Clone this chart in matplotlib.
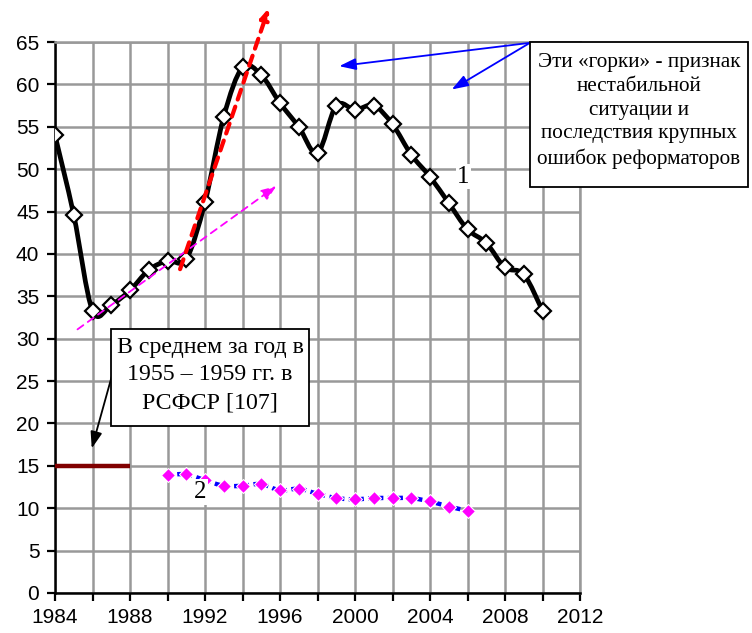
import numpy as np
import matplotlib
matplotlib.use('Agg')
import matplotlib.pyplot as plt
from matplotlib.path import Path
from matplotlib.patches import PathPatch, Rectangle

# ---- data ----
years1 = list(range(1984, 2011))
vals1 = [54.0, 44.6, 33.3, 34.0, 35.7, 38.1, 39.2, 39.4, 46.1, 56.2, 62.0, 61.1,
         57.8, 55.0, 51.9, 57.5, 57.0, 57.5, 55.3, 51.7, 49.1, 46.0, 42.9, 41.3,
         38.4, 37.6, 33.3]
years2 = list(range(1990, 2007))
vals2 = [13.9, 14.0, 13.3, 12.65, 12.65, 12.85, 12.1, 12.3, 11.7, 11.2, 11.05,
         11.2, 11.2, 11.2, 10.8, 10.2, 9.7]
years3 = [1984, 1988]
vals3 = [15.0, 15.0]

xticks = [1984, 1988, 1992, 1996, 2000, 2004, 2008, 2012]
yticks = list(range(0, 70, 5))

box1_text = "Эти «горки» - признак\nнестабильной\nситуации и\nпоследствия крупных\nошибок реформаторов"
box2_text = "В среднем за год в\n1955 – 1959 гг. в\nРСФСР [107]"

W, H = 752, 633
fig = plt.figure(figsize=(W / 100, H / 100), dpi=100)
ax = fig.add_axes([55 / W, 1 - 593 / H, 525 / W, 551 / H])


def px(x, y):
    return (x / W, 1 - y / H)


def smooth_path(x, y):
    x = np.asarray(x, float)
    y = np.asarray(y, float)
    n = len(x)
    verts = [(x[0], y[0])]
    codes = [Path.MOVETO]
    for i in range(n - 1):
        p0 = i - 1 if i > 0 else i
        p3 = i + 2 if i + 2 < n else i + 1
        c1 = (x[i] + (x[i + 1] - x[p0]) / 6, y[i] + (y[i + 1] - y[p0]) / 6)
        c2 = (x[i + 1] - (x[p3] - x[i]) / 6, y[i + 1] - (y[p3] - y[i]) / 6)
        verts += [c1, c2, (x[i + 1], y[i + 1])]
        codes += [Path.CURVE4] * 3
    return Path(verts, codes)


ax.set_xlim(1984, 2012)
ax.set_ylim(0, 65)
ax.set_xticks(xticks)
ax.set_xticks(list(range(1984, 2013, 2)), minor=True)
ax.set_yticks(yticks)
ax.grid(True, which='both', color='#999999', lw=1.8)
ax.set_axisbelow(True)
for s in ['top', 'right']:
    ax.spines[s].set_color('#999999')
    ax.spines[s].set_linewidth(1.8)
for s in ['left', 'bottom']:
    ax.spines[s].set_color('black')
    ax.spines[s].set_linewidth(1.8)
ax.tick_params(which='both', direction='out', length=5.8, width=1.6, color='black')
ax.tick_params(axis='x', labelsize=15, pad=5.0)
ax.tick_params(axis='y', labelsize=15, pad=5.5)
for lab in ax.get_xticklabels() + ax.get_yticklabels():
    lab.set_fontfamily('Liberation Sans')

# series 3
ax.plot(years3, vals3, color='#800000', lw=3.2, solid_capstyle='butt', zorder=3)

# series 1
ax.add_patch(PathPatch(smooth_path(years1, vals1), fill=False, ec='black', lw=3.4,
                       joinstyle='round', capstyle='round', zorder=4))
ax.plot(years1, vals1, ls='none', marker='D', ms=8, mfc='white', mec='black',
        mew=1.6, zorder=5)

# series 2
ax.add_patch(PathPatch(smooth_path(years2, vals2), fill=False, ec='blue', lw=3.2,
                       linestyle=(0, (1.2, 1.0)), zorder=4))
ax.plot(years2, vals2, ls='none', marker='D', ms=7, mfc='magenta', mec='white',
        mew=0.8, zorder=5)

# trend arrows
ax.annotate('', xy=(1995.8, 48.0), xytext=(1985.2, 31.1),
            arrowprops=dict(arrowstyle='-|>,head_length=0.9,head_width=0.35',
                            color='magenta', lw=1.3, linestyle=(0, (4, 3)),
                            shrinkA=0, shrinkB=0), zorder=6)
ax.annotate('', xy=(1995.4, 69.0), xytext=(1990.67, 38.2),
            arrowprops=dict(arrowstyle='-|>,head_length=0.6,head_width=0.25',
                            color='red', lw=3, linestyle=(0, (2.5, 1.8)),
                            shrinkA=0, shrinkB=0), zorder=6, annotation_clip=False)

# blue arrows from box1
for tip in [(1999.16, 62.15), (2005.16, 59.4)]:
    ax.annotate('', xy=tip, xytext=(2009.33, 64.9),
                arrowprops=dict(arrowstyle='-|>,head_length=1.0,head_width=0.35',
                                color='blue', lw=1.3, shrinkA=0, shrinkB=0),
                zorder=6, annotation_clip=False)

# black arrow from box2
ax.annotate('', xy=(1985.96, 17.06), xytext=(1987.02, 25.5),
            arrowprops=dict(arrowstyle='-|>,head_length=1.0,head_width=0.35',
                            color='black', lw=1.3, shrinkA=0, shrinkB=0), zorder=6)

# series labels
ax.text(2005.78, 49.1, '1', fontsize=18, family='Liberation Serif', ha='center',
        va='center', zorder=7,
        bbox=dict(facecolor='white', edgecolor='none', pad=1))
ax.text(1991.73, 11.9, '2', fontsize=18, family='Liberation Serif', ha='center',
        va='center', zorder=7,
        bbox=dict(facecolor='white', edgecolor='none', pad=1.5))

# text boxes
x0, y0 = px(530, 187)
x1, y1 = px(748, 42)
fig.patches.append(Rectangle((x0, y0), x1 - x0, y1 - y0, transform=fig.transFigure,
                             facecolor='white', edgecolor='black', lw=1.3, zorder=8))
fig.text(*px(639, 111), box1_text, fontsize=15.3, family='Liberation Serif',
         ha='center', va='center', multialignment='center', linespacing=1.33, zorder=9)

x0, y0 = px(111, 426)
x1, y1 = px(309, 329)
fig.patches.append(Rectangle((x0, y0), x1 - x0, y1 - y0, transform=fig.transFigure,
                             facecolor='white', edgecolor='black', lw=1.3, zorder=8))
fig.text(*px(210, 375), box2_text, fontsize=17.2, family='Liberation Serif',
         ha='center', va='center', multialignment='center', linespacing=1.42, zorder=9)

fig.savefig('out.png', dpi=100)
